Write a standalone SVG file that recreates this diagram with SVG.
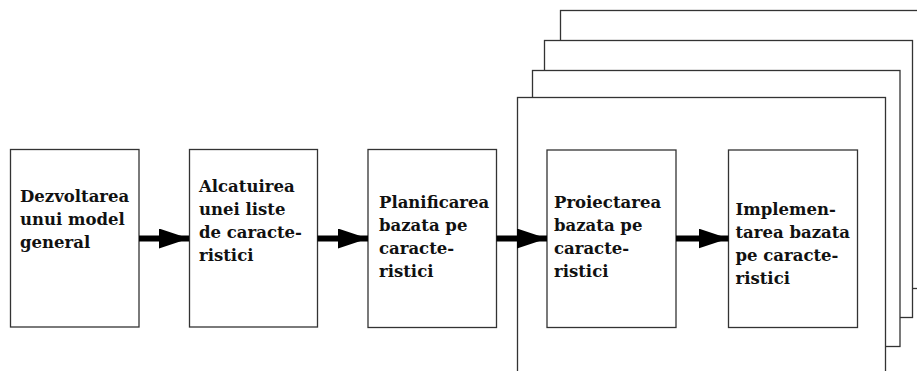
<svg xmlns="http://www.w3.org/2000/svg" width="917" height="371" viewBox="0 0 917 371">
  <style>
    .frame { fill: #fff; stroke: #333; stroke-width: 1.3; }
    .box { fill: #fff; stroke: #333; stroke-width: 1.3; }
    .label { font-family: "DejaVu Serif", "Liberation Serif", serif; font-weight: bold; font-size: 16.5px; fill: #111; }
    .shaft { stroke: #000; stroke-width: 6; fill: none; }
  </style>
  <defs>
    <marker id="head" markerUnits="userSpaceOnUse" markerWidth="30" markerHeight="20" refX="30" refY="10" orient="auto">
      <path d="M0,0 L30,10 L0,20 Z" fill="#000"/>
    </marker>
  </defs>

  <!-- stacked iteration frames, back to front -->
  <g id="iteration-frames">
    <rect class="frame" x="560.5" y="10.5" width="380" height="278"/>
    <rect class="frame" x="544.5" y="40.5" width="368" height="277"/>
    <rect class="frame" x="532.5" y="70.5" width="367.5" height="276"/>
    <rect class="frame" x="517.5" y="97.5" width="368" height="300"/>
  </g>

  <g id="node-model">
    <rect class="box" x="10.5" y="149.5" width="128.5" height="177.5"/>
    <text class="label" x="20">
      <tspan x="20" y="201.5">Dezvoltarea</tspan>
      <tspan x="20" y="224.5">unui model</tspan>
      <tspan x="20" y="247.5">general</tspan>
    </text>
  </g>

  <g id="node-lista">
    <rect class="box" x="189.5" y="149.5" width="128" height="177.5"/>
    <text class="label">
      <tspan x="199" y="191.5">Alcatuirea</tspan>
      <tspan x="199" y="214.5">unei liste</tspan>
      <tspan x="199" y="237.5">de caracte-</tspan>
      <tspan x="199" y="260.5">ristici</tspan>
    </text>
  </g>

  <g id="node-planificare">
    <rect class="box" x="368" y="149.5" width="128.5" height="178"/>
    <text class="label">
      <tspan x="379" y="208">Planificarea</tspan>
      <tspan x="379" y="231">bazata pe</tspan>
      <tspan x="379" y="254">caracte-</tspan>
      <tspan x="379" y="277">ristici</tspan>
    </text>
  </g>

  <g id="node-proiectare">
    <rect class="box" x="547" y="150" width="129" height="177.5"/>
    <text class="label">
      <tspan x="554" y="207.5">Proiectarea</tspan>
      <tspan x="554" y="231">bazata pe</tspan>
      <tspan x="554" y="254">caracte-</tspan>
      <tspan x="554" y="277">ristici</tspan>
    </text>
  </g>

  <g id="node-implementare">
    <rect class="box" x="728.5" y="150" width="129" height="177.5"/>
    <text class="label">
      <tspan x="735.5" y="215">Implemen-</tspan>
      <tspan x="735.5" y="238">tarea bazata</tspan>
      <tspan x="735.5" y="261">pe caracte-</tspan>
      <tspan x="735.5" y="284">ristici</tspan>
    </text>
  </g>

  <!-- flow arrows between the stages -->
  <g id="connectors">
    <line class="shaft" x1="139" y1="238.5" x2="189" y2="238.5" marker-end="url(#head)"/>
    <line class="shaft" x1="317.5" y1="238.5" x2="368" y2="238.5" marker-end="url(#head)"/>
    <line class="shaft" x1="496.5" y1="238.5" x2="547" y2="238.5" marker-end="url(#head)"/>
    <line class="shaft" x1="676" y1="238.5" x2="728.5" y2="238.5" marker-end="url(#head)"/>
  </g>
</svg>
